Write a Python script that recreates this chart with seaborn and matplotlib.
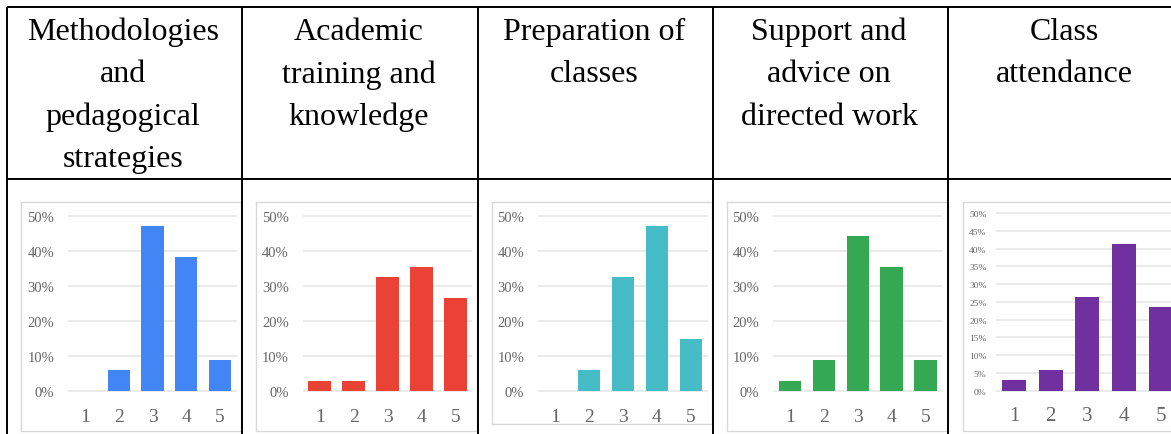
import matplotlib
matplotlib.use("Agg")
import matplotlib.pyplot as plt
import seaborn as sns
from matplotlib.ticker import MultipleLocator, FuncFormatter

# Share of answers (%) for each rating 1..5
ratings = ["1", "2", "3", "4", "5"]
methodologies = [0.0, 5.9, 47.1, 38.2, 8.8]
academic = [2.9, 2.9, 32.4, 35.3, 26.5]
preparation = [0.0, 5.9, 32.4, 47.1, 14.7]
support = [2.9, 8.8, 44.1, 35.3, 8.8]
attendance = [2.9, 5.9, 26.5, 41.2, 23.5]

headers = [
    ["Methodologies", "and", "pedagogical", "strategies"],
    ["Academic", "training and", "knowledge"],
    ["Preparation of", "classes"],
    ["Support and", "advice on", "directed work"],
    ["Class", "attendance"],
]
series = [methodologies, academic, preparation, support, attendance]
colors = ["#4285F4", "#EA4335", "#46BDC6", "#34A853", "#7030A0"]

sns.set_style("white")
plt.rcParams["font.family"] = ["Liberation Serif", "DejaVu Serif"]

W, H = 1171, 435
fig = plt.figure(figsize=(W / 100, H / 100), dpi=100)
fig.patch.set_facecolor("white")


def rect(l, t, r, b):
    return [l / W, 1 - b / H, (r - l) / W, (b - t) / H]


# table grid
col_edges = [7, 242, 478, 713, 948, 1183]
top_y, sep_y = 8, 180

# chart frames and plot areas in pixels: frame (l, t, r, b), plot (l, r, y0, y50)
frames = [(21, 203, 241, 432), (256, 203, 477, 432), (492, 203, 712, 425),
          (727, 203, 948, 432), (963, 203, 1195, 432)]
plots = [(68, 237, 391.7, 216.7), (302.7, 472.3, 391.7, 216.7),
         (538.3, 707.7, 391.7, 216.7), (773.3, 942.3, 391.7, 216.7),
         (995.7, 1179, 391.7, 214.0)]

for i, (vals, c) in enumerate(zip(series, colors)):
    fl, ft, fr, fb = frames[i]
    frame = fig.add_axes(rect(fl, ft, fr, fb))
    frame.set_xticks([]); frame.set_yticks([])
    for s in frame.spines.values():
        s.set_color("#d9d9d9"); s.set_linewidth(1.0)

    pl, pr, y0, y50 = plots[i]
    ppu = (y0 - y50) / 50.0
    m = 0.3
    ax = fig.add_axes(rect(pl, y50 - m * ppu, pr, y0 + m * ppu))
    ax.patch.set_alpha(0)
    sns.barplot(x=ratings, y=vals, color=c, saturation=1, width=0.66,
                ax=ax, edgecolor="none")
    ax.set_xlim(-0.5, 4.5)
    ax.set_ylim(-m, 50 + m)
    small = i == 4
    ax.yaxis.set_major_locator(MultipleLocator(5 if small else 10))
    ax.yaxis.set_major_formatter(FuncFormatter(lambda v, p: f"{v:.0f}%"))
    ax.grid(axis="y", color="#e6e6e6", linewidth=1.2)
    ax.set_axisbelow(True)
    for s in ax.spines.values():
        s.set_visible(False)
    ax.set_xlabel(""); ax.set_ylabel("")
    ax.tick_params(axis="y", length=0, labelcolor="#666666",
                   labelsize=6.8 if small else 10.5, pad=6.5 if small else 10)
    ax.tick_params(axis="x", length=0, labelcolor="#666666",
                   labelsize=15 if small else 14, pad=10 if small else 12)

# overlay for table rules and header text
ov = fig.add_axes([0, 0, 1, 1], zorder=10)
ov.set_xlim(0, W); ov.set_ylim(H, 0)
ov.axis("off")
ov.patch.set_alpha(0)
lw = 1.4
ov.plot([col_edges[0], W], [top_y, top_y], color="black", lw=lw, solid_capstyle="butt")
ov.plot([col_edges[0], W], [sep_y, sep_y], color="black", lw=lw, solid_capstyle="butt")
for x in col_edges[:-1]:
    ov.plot([x, x], [top_y, H], color="black", lw=lw, solid_capstyle="butt")

for j, lines in enumerate(headers):
    cx = (col_edges[j] + col_edges[j + 1]) / 2 - 1.5
    for k, line in enumerate(lines):
        ov.text(cx, 40.0 + k * 42.5, line, ha="center", va="baseline",
                fontsize=23, color="black")

fig.savefig("out.png", dpi=100)
